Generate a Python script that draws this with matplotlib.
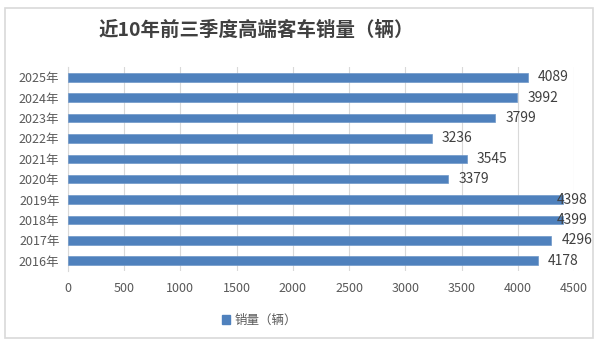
import matplotlib
matplotlib.use("Agg")
import matplotlib.pyplot as plt
from matplotlib.patches import Rectangle, Patch

plt.rcParams['font.family'] = ['Noto Sans CJK SC', 'DejaVu Sans']

# 数据
years = ["2016年", "2017年", "2018年", "2019年", "2020年",
         "2021年", "2022年", "2023年", "2024年", "2025年"]
sales = [4178, 4296, 4399, 4398, 3379, 3545, 3236, 3799, 3992, 4089]
xticks = [0, 500, 1000, 1500, 2000, 2500, 3000, 3500, 4000, 4500]

blue = "#4F81BD"
grey = "#595959"

fig = plt.figure(figsize=(6, 3.46), dpi=100)
ax = fig.add_axes([0.113, 0.217, 0.844, 0.589])

y = range(len(years))
ax.barh(y, sales, height=0.42, color=blue, edgecolor="#6F97C8", linewidth=0.5, zorder=3)

# 数据标签 (太长的就靠右边放)
for i, v in enumerate(sales):
    if v > 4350:
        ax.text(4615, i, str(v), va="center", ha="right", fontsize=10,
                color="#404040", zorder=4, clip_on=False)
    else:
        ax.text(v + 90, i, str(v), va="center", ha="left", fontsize=10,
                color="#404040", zorder=4, clip_on=False)

ax.set_xlim(0, 4500)
ax.set_ylim(-0.5, len(years) - 0.5)
ax.set_yticks(list(y))
ax.set_yticklabels(years, fontsize=9, color=grey)
ax.set_xticks(xticks)
ax.set_xticklabels([str(t) for t in xticks], fontsize=9, color=grey)
ax.tick_params(axis="both", length=0, pad=8)
ax.tick_params(axis="y", pad=6)
ax.grid(axis="x", color="#D9D9D9", linewidth=0.8, zorder=0)
for s in ["top", "right", "bottom"]:
    ax.spines[s].set_visible(False)
ax.spines["left"].set_color("#D9D9D9")

fig.text(0.427, 0.913, "近10年前三季度高端客车销量（辆）", ha="center", va="center",
         fontsize=14, color="#404040", fontweight="bold")

fig.legend(handles=[Patch(color=blue, label="销量（辆）")], loc="center",
           bbox_to_anchor=(0.432, 0.075), frameon=False, fontsize=9,
           handlelength=0.7, handleheight=0.7, handletextpad=0.3,
           labelcolor=grey)

# 图表外框
fig.patches.append(Rectangle((0.008, 0.023), 0.98, 0.955, transform=fig.transFigure,
                             fill=False, edgecolor="#D9D9D9", linewidth=1.2))

plt.savefig("out.png", dpi=100)
